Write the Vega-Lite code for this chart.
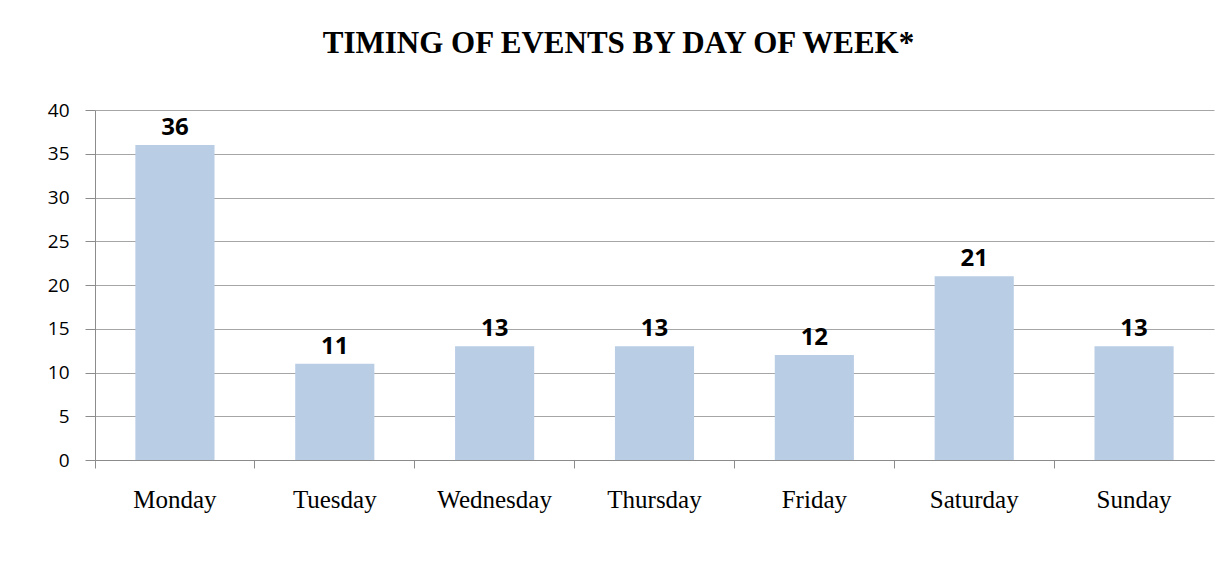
{
  "$schema": "https://vega.github.io/schema/vega-lite/v6.json",
  "autosize": "none",
  "width": 1119,
  "height": 350,
  "padding": {"left": 95, "top": 110, "right": 11, "bottom": 116},
  "background": "white",
  "title": {
    "text": "TIMING OF EVENTS BY DAY OF WEEK*",
    "font": "Liberation Serif",
    "fontSize": 31,
    "fontWeight": "bold",
    "color": "black",
    "anchor": "middle",
    "frame": "group",
    "baseline": "alphabetic",
    "offset": 17,
    "dx": -36
  },
  "data": {
    "values": [
      {"day": "Monday", "count": 36},
      {"day": "Tuesday", "count": 11},
      {"day": "Wednesday", "count": 13},
      {"day": "Thursday", "count": 13},
      {"day": "Friday", "count": 12},
      {"day": "Saturday", "count": 21},
      {"day": "Sunday", "count": 13}
    ]
  },
  "encoding": {
    "x": {
      "field": "day",
      "type": "nominal",
      "sort": null,
      "scale": {"paddingInner": 0, "paddingOuter": 0},
      "axis": {
        "title": null,
        "labelAngle": 0,
        "labelFont": "Liberation Serif",
        "labelFontSize": 25,
        "labelColor": "black",
        "labelBaseline": "alphabetic",
        "labelPadding": 39,
        "bandPosition": 0,
        "labelBound": false,
        "tickSize": 8,
        "tickColor": "#8C8C8C",
        "domainColor": "#8C8C8C",
        "grid": false
      }
    },
    "y": {
      "field": "count",
      "type": "quantitative",
      "scale": {"domain": [0, 40]},
      "axis": {
        "title": null,
        "values": [0, 5, 10, 15, 20, 25, 30, 35, 40],
        "labelFont": "Open Sans",
        "labelFontSize": 19,
        "labelColor": "black",
        "labelPadding": 16,
        "tickSize": 10,
        "tickColor": "#8C8C8C",
        "domainColor": "#8C8C8C",
        "gridColor": "#A6A6A6",
        "gridOpacity": 1,
        "grid": true
      }
    }
  },
  "layer": [
    {"mark": {"type": "bar", "color": "#B9CDE5", "width": {"band": 0.495}}},
    {
      "mark": {
        "type": "text",
        "font": "Open Sans",
        "fontSize": 24,
        "fontWeight": "bold",
        "color": "black",
        "baseline": "alphabetic",
        "dy": -10
      },
      "encoding": {"text": {"field": "count", "type": "quantitative"}}
    }
  ],
  "config": {
    "view": {"stroke": null}
  }
}
